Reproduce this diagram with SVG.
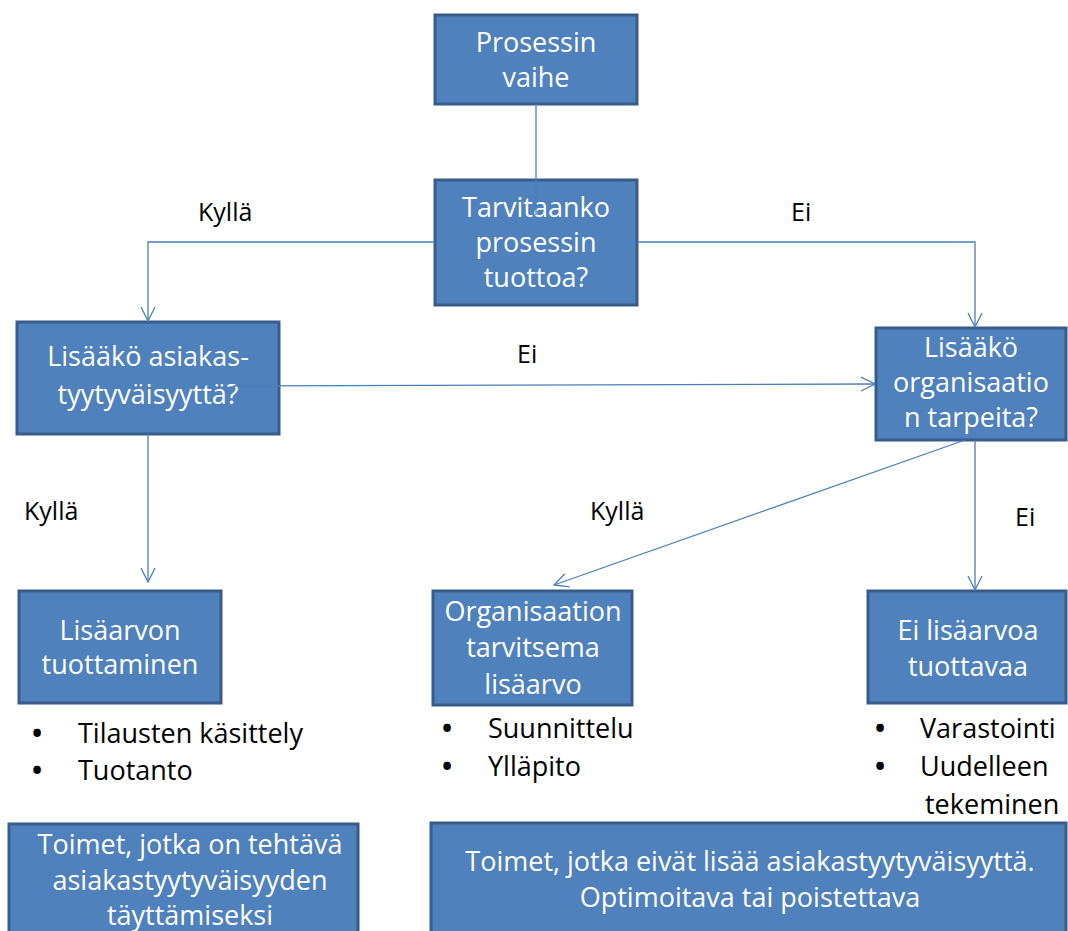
<svg xmlns="http://www.w3.org/2000/svg" width="1068" height="931" viewBox="0 0 1068 931">
  <defs>
    <marker id="arrow" viewBox="0 0 16 16" refX="15" refY="8" markerWidth="16" markerHeight="16" markerUnits="userSpaceOnUse" orient="auto">
      <path d="M1,1 L15,8 L1,15" fill="none" stroke="#4A7EBB" stroke-width="1.3"/>
    </marker>
  </defs>
  <style>
    .box { fill: #4F81BD; stroke: #385D8A; stroke-width: 3; }
    .bt { font-family: "Open Sans", Lato, sans-serif; font-size: 27px; fill: #FFFFFF; text-anchor: middle; }
    .lbl { font-family: "Open Sans", Lato, sans-serif; font-size: 25px; fill: #000000; }
    .li { font-family: "Open Sans", Lato, sans-serif; font-size: 27px; fill: #000000; }
    .dot { font-weight: bold; }
    .con { fill: none; stroke: #4A7EBB; stroke-width: 1.3; }
  </style>
  <rect width="1068" height="931" fill="#FFFFFF"/>

  <g id="node-prosessin-vaihe">
    <rect class="box" x="435" y="15" width="202" height="89"/>
    <text class="bt" x="536" y="52">Prosessin</text>
    <text class="bt" x="536" y="87">vaihe</text>
  </g>

  <g id="node-tarvitaanko">
    <rect class="box" x="435" y="180" width="202" height="125"/>
    <text class="bt" x="536" y="217">Tarvitaanko</text>
    <text class="bt" x="536" y="252">prosessin</text>
    <text class="bt" x="536" y="287">tuottoa?</text>
  </g>

  <g id="node-asiakastyytyvaisyys">
    <rect class="box" x="17" y="322" width="262" height="112"/>
    <text class="bt" x="148" y="366">Lisääkö asiakas-</text>
    <text class="bt" x="148" y="404">tyytyväisyyttä?</text>
  </g>

  <g id="node-organisaation-tarpeet">
    <rect class="box" x="876" y="328" width="190" height="112"/>
    <text class="bt" x="971" y="357">Lisääkö</text>
    <text class="bt" x="971" y="392">organisaatio</text>
    <text class="bt" x="971" y="427">n tarpeita?</text>
  </g>

  <g id="node-lisaarvon-tuottaminen">
    <rect class="box" x="19" y="591" width="202" height="112"/>
    <text class="bt" x="120" y="640">Lisäarvon</text>
    <text class="bt" x="120" y="674">tuottaminen</text>
  </g>

  <g id="node-organisaation-lisaarvo">
    <rect class="box" x="433" y="591" width="199" height="114"/>
    <text class="bt" x="533" y="621">Organisaation</text>
    <text class="bt" x="533" y="657">tarvitsema</text>
    <text class="bt" x="533" y="694">lisäarvo</text>
  </g>

  <g id="node-ei-lisaarvoa">
    <rect class="box" x="868" y="591" width="198" height="112"/>
    <text class="bt" x="968" y="640">Ei lisäarvoa</text>
    <text class="bt" x="968" y="676">tuottavaa</text>
  </g>

  <g id="node-toimet-tehtava">
    <rect class="box" x="9" y="824" width="349" height="112"/>
    <text class="bt" x="190" y="854">Toimet, jotka on tehtävä</text>
    <text class="bt" x="190" y="890">asiakastyytyväisyyden</text>
    <text class="bt" x="190" y="925">täyttämiseksi</text>
  </g>

  <g id="node-toimet-optimoitava">
    <rect class="box" x="431" y="823" width="635" height="113"/>
    <text class="bt" x="750" y="871">Toimet, jotka eivät lisää asiakastyytyväisyyttä.</text>
    <text class="bt" x="750" y="907">Optimoitava tai poistettava</text>
  </g>

  <g id="lists" class="li">
    <text class="dot" x="32" y="743">•</text><text x="78" y="743">Tilausten käsittely</text>
    <text class="dot" x="32" y="780">•</text><text x="78" y="780">Tuotanto</text>
    <text class="dot" x="442" y="738">•</text><text x="488" y="738">Suunnittelu</text>
    <text class="dot" x="442" y="776">•</text><text x="488" y="776">Ylläpito</text>
    <text class="dot" x="875" y="738">•</text><text x="920" y="738">Varastointi</text>
    <text class="dot" x="875" y="776">•</text><text x="920" y="776">Uudelleen</text>
    <text x="925" y="814">tekeminen</text>
  </g>

  <g id="connectors">
    <path class="con" d="M536,104 L536,215"/>
    <path class="con" d="M435,242 L148,242 L148,321" marker-end="url(#arrow)"/>
    <path class="con" d="M637,242 L975,242 L975,327" marker-end="url(#arrow)"/>
    <path class="con" d="M233,386 L875,384" marker-end="url(#arrow)"/>
    <path class="con" d="M148,434 L148,582" marker-end="url(#arrow)"/>
    <path class="con" d="M965,440 L554,585" marker-end="url(#arrow)"/>
    <path class="con" d="M975,440 L975,590" marker-end="url(#arrow)"/>
  </g>

  <g id="labels" class="lbl">
    <text x="198" y="221">Kyllä</text>
    <text x="791" y="221">Ei</text>
    <text x="517" y="363">Ei</text>
    <text x="24" y="520">Kyllä</text>
    <text x="590" y="520">Kyllä</text>
    <text x="1015" y="526">Ei</text>
  </g>
</svg>
